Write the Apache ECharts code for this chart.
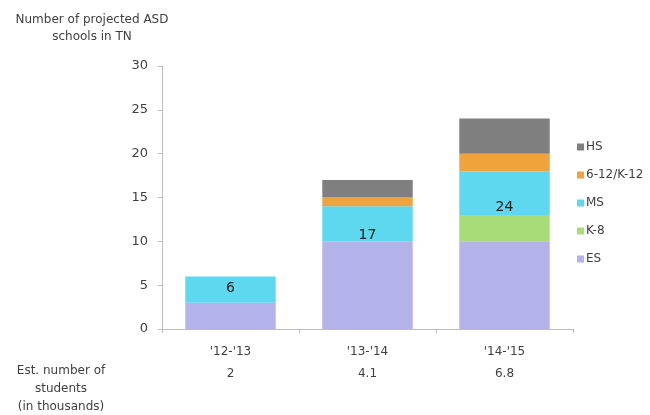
<!DOCTYPE html>
<html>
<head>
<meta charset="utf-8">
<script src="https://cdn.jsdelivr.net/npm/echarts@6/dist/echarts.min.js"></script>
<style>html,body{margin:0;padding:0;background:#fff}#c{width:650px;height:415px}</style>
</head>
<body>
<div id="c"></div>
<script>
const categories = ["'12-'13", "'13-'14", "'14-'15"];
const students = ["2", "4.1", "6.8"];
const totals = [6, 17, 24];
const esValues = [3, 10, 10];
const k8Values = [0, 0, 3];
const msValues = [3, 4, 5];
const k12Values = [0, 1, 2];
const hsValues = [0, 2, 4];
const yTicks = [0, 5, 10, 15, 20, 25, 30];

const FONT = '"DejaVu Sans", sans-serif';
const TXT = '#404040';
const labelOffsets = [[0, -1], [0, 12], [0, 14]];

const chart = echarts.init(document.getElementById('c'));
function ser(name, data, color, extra) {
  return Object.assign({
    name, type: 'bar', stack: 'total', data: data.map(v => v === 0 ? null : v),
    barCategoryGap: '34%', itemStyle: { color }, emphasis: { disabled: true }
  }, extra || {});
}
chart.setOption({
  animation: false,
  textStyle: { fontFamily: FONT },
  grid: { left: 162, right: 77, top: 66, bottom: 86 },
  xAxis: {
    type: 'category', data: categories,
    axisLine: { lineStyle: { color: '#bdbdbd', width: 1 } },
    axisTick: { show: true, length: 4, lineStyle: { color: '#bdbdbd' } },
    axisLabel: {
      color: TXT, fontSize: 12, fontFamily: FONT, lineHeight: 22, margin: 12,
      formatter: (v, i) => v + '\n' + students[i]
    }
  },
  yAxis: {
    type: 'value', min: yTicks[0], max: yTicks[yTicks.length - 1], interval: 5,
    axisLine: { show: true, lineStyle: { color: '#bdbdbd', width: 1 } },
    axisTick: { show: true, length: 4, lineStyle: { color: '#bdbdbd' } },
    splitLine: { show: false },
    axisLabel: { color: TXT, fontSize: 13, fontFamily: FONT, margin: 14 }
  },
  legend: {
    orient: 'vertical', left: 572, top: 136, itemGap: 16,
    itemWidth: 7, itemHeight: 7, icon: 'rect',
    data: ['HS', '6-12/K-12', 'MS', 'K-8', 'ES'],
    textStyle: { color: TXT, fontSize: 12, fontFamily: FONT, padding: [0, 0, 0, -3] }
  },
  graphic: [
    { type: 'text', x: 92, y: 11, style: { text: 'Number of projected ASD\nschools in TN', align: 'center', fill: TXT, fontSize: 12, lineHeight: 17, fontFamily: FONT } },
    { type: 'text', x: 61, y: 362, style: { text: 'Est. number of\nstudents\n(in thousands)', align: 'center', fill: TXT, fontSize: 12, lineHeight: 18, fontFamily: FONT } }
  ],
  series: [
    ser('ES', esValues, '#b3b3ea'),
    ser('K-8', k8Values, '#a8dc78'),
    ser('MS', msValues, '#5dd8ee', { data: msValues.map((v, i) => ({
      value: v,
      label: { show: true, position: 'inside', offset: labelOffsets[i], formatter: String(totals[i]), color: '#1a1a1a', fontSize: 14, fontFamily: FONT }
    })) }),
    ser('6-12/K-12', k12Values, '#f0a23c'),
    ser('HS', hsValues, '#7f7f7f')
  ]
});
</script>
</body>
</html>
